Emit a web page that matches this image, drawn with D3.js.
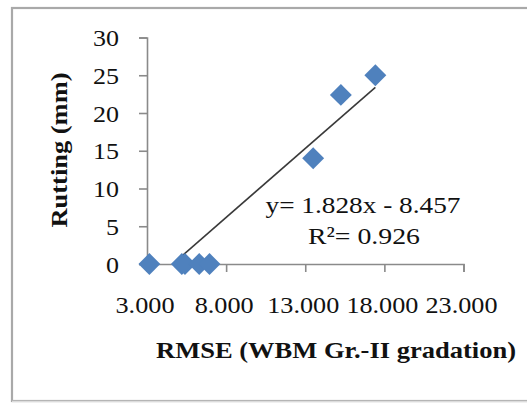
<!DOCTYPE html>
<html>
<head>
<meta charset="utf-8">
<script src="https://cdn.jsdelivr.net/npm/d3@7/dist/d3.min.js"></script>
<style>
  html, body { margin: 0; padding: 0; background: #fff; }
  svg { display: block; }
  text { font-family: "Liberation Serif", "Times New Roman", serif; fill: #111; }
</style>
</head>
<body>
<svg id="chart" width="527" height="403"></svg>
<script>
// RMSE vs rutting for the WBM Gr.-II gradation
const rmse    = [3.15, 5.2, 5.4, 6.3, 6.95, 13.5, 15.25, 17.43];
const rutting = [0,    0,   0,   0,   0,    14,   22.4,  25];

// Linear trendline as reported on the chart
const slope = 1.828;
const intercept = -8.457;
const rSquared = 0.926;

const xTicks = [3, 8, 13, 18, 23];
const yTicks = [0, 5, 10, 15, 20, 25, 30];

const xTitle = "RMSE (WBM Gr.-II gradation)";
const yTitle = "Rutting (mm)";

const svg = d3.select("#chart");
const W = 527, H = 403;

svg.append("rect").attr("width", W).attr("height", H).attr("fill", "#fff");

// chart-area frame
svg.append("rect")
  .attr("x", 12).attr("y", 8)
  .attr("width", W + 10).attr("height", 393)
  .attr("fill", "none").attr("stroke", "#a9a9a9").attr("stroke-width", 2.2);
svg.append("line")
  .attr("x1", 12).attr("x2", W).attr("y1", 401.5).attr("y2", 401.5)
  .attr("stroke", "#dcdcdc").attr("stroke-width", 1.5);

const x = d3.scaleLinear().domain([3, 23]).range([147, 463.5]);
const y = d3.scaleLinear().domain([0, 30]).range([264, 37.5]);

const axisColor = "#8a8a8a";

// wide tick-label lettering: fixed advance per digit and per point
const labelWidth = s => Array.from(s).reduce((w, c) => w + (c === "." ? 7 : 13), 0);

// y axis
const gy = svg.append("g")
  .attr("transform", `translate(${x(3)},0)`)
  .call(d3.axisLeft(y).tickValues(yTicks).tickSize(8).tickPadding(20).tickFormat(d3.format("d")));
gy.select(".domain").attr("stroke", axisColor).attr("stroke-width", 1.6);
gy.selectAll(".tick line").attr("stroke", axisColor).attr("stroke-width", 1.6);
gy.selectAll(".tick text")
  .attr("font-size", 24).attr("font-family", "Liberation Serif")
  .attr("fill", "#1a1a1a").attr("dy", "0.34em")
  .attr("textLength", function () { return labelWidth(this.textContent); })
  .attr("lengthAdjust", "spacingAndGlyphs");

// x axis
const gx = svg.append("g")
  .attr("transform", `translate(0,${y(0)})`)
  .call(d3.axisBottom(x).tickValues(xTicks).tickSize(8).tickFormat(d3.format(".3f")));
gx.select(".domain").attr("stroke", axisColor).attr("stroke-width", 1.6);
gx.selectAll(".tick line").attr("stroke", axisColor).attr("stroke-width", 1.6);
gx.selectAll(".tick text")
  .attr("font-size", 24).attr("font-family", "Liberation Serif")
  .attr("fill", "#1a1a1a")
  .attr("y", 49).attr("dy", 0).attr("dx", -2.5)
  .attr("textLength", function () { return labelWidth(this.textContent); })
  .attr("lengthAdjust", "spacingAndGlyphs");

// trendline, clipped to the plotted y range
const xStart = (0 - intercept) / slope;
const xEnd = d3.max(rmse);
svg.append("line")
  .attr("x1", x(xStart)).attr("y1", y(slope * xStart + intercept))
  .attr("x2", x(xEnd)).attr("y2", y(slope * xEnd + intercept))
  .attr("stroke", "#3a3a3a").attr("stroke-width", 1.6);

// markers
const diamond = d3.symbol().type(d3.symbolSquare).size(240);
svg.append("g").selectAll("path")
  .data(rmse.map((v, i) => [v, rutting[i]]))
  .join("path")
  .attr("d", diamond)
  .attr("transform", d => `translate(${x(d[0])},${y(d[1])}) rotate(45)`)
  .attr("fill", "#4f81bd");

// trendline equation
svg.append("text")
  .attr("x", 363).attr("y", 213)
  .attr("text-anchor", "middle").attr("font-size", 24)
  .attr("textLength", 195).attr("lengthAdjust", "spacingAndGlyphs")
  .text(`y= ${slope}x - ${Math.abs(intercept)}`);
svg.append("text")
  .attr("x", 364).attr("y", 244)
  .attr("text-anchor", "middle").attr("font-size", 24)
  .attr("textLength", 112).attr("lengthAdjust", "spacingAndGlyphs")
  .text(`R²= ${rSquared}`);

// axis titles
svg.append("text")
  .attr("x", 336).attr("y", 358)
  .attr("text-anchor", "middle").attr("font-size", 24).attr("font-weight", "bold")
  .attr("textLength", 360).attr("lengthAdjust", "spacingAndGlyphs")
  .attr("fill", "#000")
  .text(xTitle);
svg.append("text")
  .attr("transform", "translate(67,150) rotate(-90)")
  .attr("text-anchor", "middle").attr("font-size", 24).attr("font-weight", "bold")
  .attr("textLength", 155).attr("lengthAdjust", "spacingAndGlyphs")
  .attr("fill", "#000")
  .text(yTitle);
</script>
</body>
</html>
